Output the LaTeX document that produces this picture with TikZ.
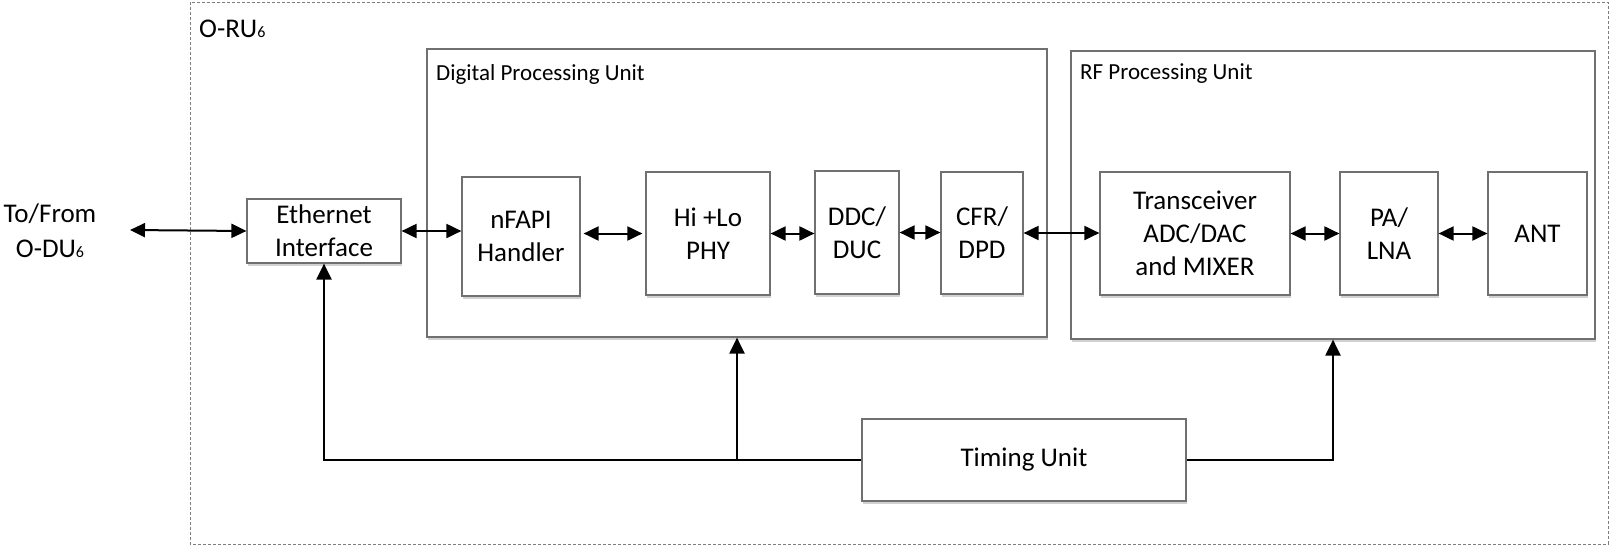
\documentclass[tikz,border=0pt]{standalone}
\usepackage{fontspec}
\setmainfont{Carlito}
\usetikzlibrary{arrows.meta,shadows}
\definecolor{boxgray}{RGB}{112,112,112}
\definecolor{dashgray}{RGB}{125,125,125}
\tikzset{
  blk/.style={draw=boxgray, line width=1.2pt, fill=white, rectangle, inner sep=0pt,
    align=center, font=\fontsize{27}{33}\selectfont,
    drop shadow={shadow xshift=1pt, shadow yshift=-2.5pt, opacity=0.18, fill=black}},
  grp/.style={draw=boxgray, line width=1.2pt, fill=white,
    drop shadow={shadow xshift=1pt, shadow yshift=-2.5pt, opacity=0.18, fill=black}},
  lbl/.style={inner sep=0pt, anchor=west, font=\fontsize{23}{28}\selectfont},
  biarrow/.style={line width=2pt, {Triangle[length=15pt,width=14pt]}-{Triangle[length=15pt,width=14pt]}},
  uparrow/.style={line width=2.2pt, -{Triangle[length=16pt,width=15pt]}},
}
\begin{document}
\begin{tikzpicture}[x=1pt,y=-1pt]
\useasboundingbox (0,0) rectangle (1615,555);
% outer dashed frame
\draw[dashgray, line width=1pt, dash pattern=on 3pt off 2pt] (190,2) rectangle (1608,544);
\node[inner sep=0pt, anchor=west, font=\fontsize{27}{33}\selectfont] (oru) at (199,29) {O-RU{\fontsize{16}{16}\selectfont 6}};
% group boxes
\node[grp, minimum width=620pt, minimum height=288pt] (dpu) at (737,193) {};
\node[grp, minimum width=524pt, minimum height=288pt] (rfu) at (1333,195) {};
\node[lbl] (dpulbl) at (436,74) {Digital Processing Unit};
\node[lbl] (rfulbl) at (1080,74) {RF Processing Unit};
% blocks
\node[blk, minimum width=154pt, minimum height=64pt] (eth) at (324,231) {Ethernet\\Interface};
\node[blk, minimum width=118pt, minimum height=119pt] (nfapi) at (521,236.5) {nFAPI\\Handler};
\node[blk, minimum width=124pt, minimum height=123pt] (hilo) at (708,233.5) {Hi +Lo\\PHY};
\node[blk, minimum width=84pt, minimum height=123pt] (ddc) at (857,232.5) {DDC/\\DUC};
\node[blk, minimum width=82pt, minimum height=122pt] (cfr) at (982,233) {CFR/\\DPD};
\node[blk, minimum width=190pt, minimum height=123pt] (trx) at (1195,233.5) {Transceiver\\ADC/DAC\\and MIXER};
\node[blk, minimum width=98pt, minimum height=123pt] (pa) at (1389,233.5) {PA/\\LNA};
\node[blk, minimum width=99pt, minimum height=123pt] (ant) at (1537.5,233.5) {ANT};
\node[blk, minimum width=324pt, minimum height=82pt] (timing) at (1024,460) {Timing Unit};
% external label
\node[inner sep=0pt, align=center, font=\fontsize{27}{35}\selectfont] (odu) at (50,231) {To/From\\O-DU{\fontsize{16}{16}\selectfont 6}};
\coordinate (oduend) at (130,230);
% horizontal connectors
\draw[biarrow] (oduend) -- (eth.west);
\draw[biarrow] (eth.east) -- (eth.east -| nfapi.west);
\draw[biarrow] ([xshift=3pt]hilo.west -| nfapi.east) -- ([xshift=-3pt]hilo.west);
\draw[biarrow] (hilo.east) -- (hilo.east -| ddc.west);
\draw[biarrow] (ddc.east) -- (ddc.east -| cfr.west);
\draw[biarrow] (cfr.east) -- (cfr.east -| trx.west);
\draw[biarrow] (trx.east) -- (pa.west);
\draw[biarrow] (pa.east) -- (ant.west);
% timing distribution
\draw[uparrow] (timing.west) -| (eth.south);
\draw[uparrow] (timing.west) -| (dpu.south);
\draw[uparrow] (timing.east) -| (rfu.south);
\end{tikzpicture}
\end{document}
